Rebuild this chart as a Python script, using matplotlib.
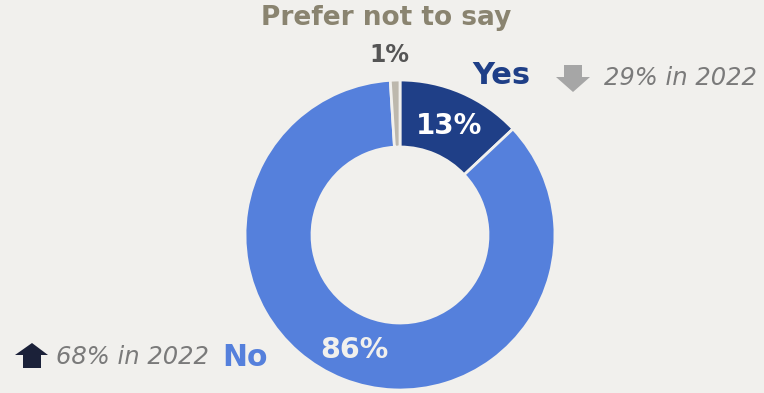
""" DONUT CHART
    Share of answers: Yes / No / Prefer not to say, with 2022 comparison.
"""

import matplotlib.pyplot as plt
from matplotlib.patches import Polygon


# -------------------------------------------------------------------------------
# DATA
# -------------------------------------------------------------------------------

labels = ['Yes', 'No', 'Prefer not to say']
shares = [13, 86, 1]
share_labels = ['13%', '86%', '1%']
prev_yes = '29% in 2022'
prev_no = '68% in 2022'

colors = ['#1f3f87', '#5580dc', '#bdb8ad']
bg = '#f1f0ed'


# -------------------------------------------------------------------------------
# PLOT
# -------------------------------------------------------------------------------

W, H = 764, 393
fig = plt.figure(figsize=(W / 100, H / 100), dpi=100, facecolor=bg)
ax = fig.add_axes([0, 0, 1, 1])
ax.set_aspect('equal')
ax.set_facecolor(bg)

cx, cy, r = 400, H - 235, 155

wedges, _ = ax.pie(shares, colors=colors, startangle=90, counterclock=False,
                   center=(cx, cy), radius=r, frame=True,
                   wedgeprops=dict(width=67, edgecolor=bg, linewidth=2))
ax.set_xlim(0, W)
ax.set_ylim(0, H)
ax.axis('off')

font = 'DejaVu Sans'


def y(v):
    return H - v


# Wedge value labels
ax.text(449, y(126), share_labels[0], color='white', fontsize=20, fontweight='bold',
        ha='center', va='center', family=font)
ax.text(354, y(350), share_labels[1], color='#f1f0ed', fontsize=20.5, fontweight='bold',
        ha='center', va='center', family=font)
ax.text(389, y(55), share_labels[2], color='#555555', fontsize=17, fontweight='bold',
        ha='center', va='center', family=font)

# Category labels
ax.text(386, y(18), labels[2], color='#8a8470', fontsize=19, fontweight='bold',
        ha='center', va='center', family=font)
ax.text(472, y(76), labels[0], color=colors[0], fontsize=22, fontweight='bold',
        ha='left', va='center', family=font)
ax.text(268, y(357), labels[1], color=colors[1], fontsize=21.5, fontweight='bold',
        ha='right', va='center', family=font)

# 2022 comparisons
ax.text(604, y(78), prev_yes, color='#7a7a7a', fontsize=17.5, style='italic',
        ha='left', va='center', family=font)
ax.text(56, y(357), prev_no, color='#7a7a7a', fontsize=17.5, style='italic',
        ha='left', va='center', family=font)

# Arrows
down = [(564, y(65)), (582, y(65)), (582, y(77)), (590, y(77)), (573, y(92)),
        (556, y(77)), (564, y(77))]
ax.add_patch(Polygon(down, closed=True, color='#a6a6a6', lw=0))
up = [(23, y(368)), (41, y(368)), (41, y(355)), (48, y(355)), (32, y(343)),
      (15, y(355)), (23, y(355))]
ax.add_patch(Polygon(up, closed=True, color='#1b2139', lw=0))

fig.savefig('out.png', dpi=100, facecolor=bg)
